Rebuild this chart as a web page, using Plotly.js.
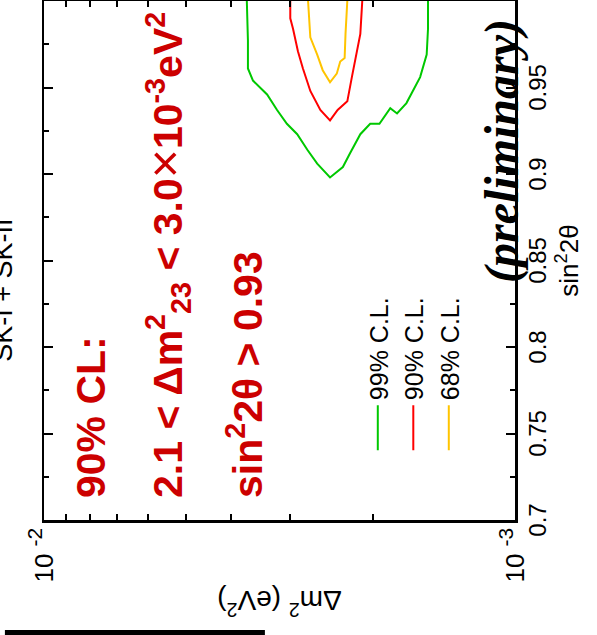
<!DOCTYPE html>
<html>
<head>
<meta charset="utf-8">
<script src="https://cdn.plot.ly/plotly-3.0.1.min.js"></script>
<style>
html,body{margin:0;padding:0;width:597px;height:635px;overflow:hidden;background:#fff;}
#wrap{position:absolute;left:0;top:0;width:635px;height:597px;transform-origin:0 0;transform:translate(0px,635px) rotate(-90deg);}
#chart{width:635px;height:597px;}
</style>
</head>
<body>
<div id="wrap"><div id="chart"></div></div>
<script>
// sin^2(2theta) and Delta m^2 (eV^2) along each confidence contour
const green_s  = [1.000, 0.977, 0.961, 0.954, 0.946, 0.937, 0.929, 0.923, 0.914, 0.906, 0.898, 0.904, 0.912, 0.923, 0.929, 0.929, 0.938, 0.935, 0.941, 0.948, 0.956, 0.969, 0.984, 1.000];
const green_dm = [3.71e-3, 3.69e-3, 3.69e-3, 3.60e-3, 3.36e-3, 3.20e-3, 3.05e-3, 2.90e-3, 2.76e-3, 2.63e-3, 2.47e-3, 2.32e-3, 2.24e-3, 2.13e-3, 2.03e-3, 1.94e-3, 1.84e-3, 1.78e-3, 1.70e-3, 1.65e-3, 1.59e-3, 1.54e-3, 1.53e-3, 1.53e-3];
const red_s    = [1.000, 0.990, 0.984, 0.971, 0.961, 0.948, 0.937, 0.931, 0.937, 0.942, 0.956, 0.981, 1.000];
const red_dm   = [3.00e-3, 3.00e-3, 2.96e-3, 2.89e-3, 2.82e-3, 2.72e-3, 2.59e-3, 2.47e-3, 2.38e-3, 2.27e-3, 2.22e-3, 2.13e-3, 2.11e-3];
const orange_s  = [1.000, 0.979, 0.969, 0.960, 0.953, 0.958, 0.965, 0.967, 0.981, 1.000];
const orange_dm = [2.75e-3, 2.72e-3, 2.63e-3, 2.56e-3, 2.47e-3, 2.39e-3, 2.35e-3, 2.30e-3, 2.29e-3, 2.27e-3];
const seriesNames = ['99% C.L.', '90% C.L.', '68% C.L.'];
const yMajorVals = [0.001, 0.01];
const yMajorText = ['10 <sup><span style="font-size:21px">-3</span></sup>', '10 <sup><span style="font-size:21px">-2</span></sup>'];
const yMinorVals = [0.002, 0.003, 0.004, 0.005, 0.006, 0.007, 0.008, 0.009];

const FONT = 'Liberation Sans, Arial, Helvetica, sans-serif';
const traces = [
  {x: green_s, y: green_dm, name: seriesNames[0], mode: 'lines', line: {color: '#00c800', width: 2}},
  {x: red_s, y: red_dm, name: seriesNames[1], mode: 'lines', line: {color: '#ff0000', width: 2}},
  {x: orange_s, y: orange_dm, name: seriesNames[2], mode: 'lines', line: {color: '#ffc400', width: 2}}
];
const red = '#cc0000';
const layout = {
  width: 635, height: 597,
  margin: {l: 115, r: 1, t: 44, b: 82, pad: 0},
  paper_bgcolor: '#ffffff', plot_bgcolor: '#ffffff',
  font: {family: FONT, color: '#000', size: 24},
  showlegend: true,
  title: {text: 'SK-I + SK-II', font: {family: FONT, size: 27, color: '#000'},
          xref: 'paper', x: 0.443, xanchor: 'center', yref: 'container', y: 0.9958, yanchor: 'middle'},
  xaxis: {
    range: [0.7, 1.0], tick0: 0.7, dtick: 0.05, ticks: 'inside', ticklen: 9, tickwidth: 2, tickcolor: '#000',
    showline: true, linewidth: 2.5, linecolor: '#000', mirror: 'ticks',
    showgrid: false, zeroline: false,
    minor: {tick0: 0.7, dtick: 0.025, ticks: 'inside', ticklen: 5, tickwidth: 2, tickcolor: '#000'},
    tickfont: {family: FONT, size: 24},
    title: {text: 'sin<sup>2</sup>2θ', font: {family: FONT, size: 26}, standoff: 9}
  },
  yaxis: {
    type: 'log', range: [-3, -2], tickmode: 'array', tickvals: yMajorVals, ticktext: yMajorText,
    ticks: 'inside', ticklen: 9, tickwidth: 2, tickcolor: '#000',
    showline: true, linewidth: 2.5, linecolor: '#000', mirror: 'ticks',
    showgrid: false, zeroline: false,
    minor: {tickmode: 'array', tickvals: yMinorVals, ticks: 'inside', ticklen: 6, tickwidth: 2, tickcolor: '#000'},
    tickfont: {family: FONT, size: 26},
    title: {text: 'Δm<sup>2</sup> (eV<sup>2</sup>)', font: {family: FONT, size: 28}, standoff: 0}
  },
  legend: {x: 0.125, y: 0.3396, xanchor: 'left', yanchor: 'top', bgcolor: 'rgba(0,0,0,0)',
           font: {family: FONT, size: 25, color: '#000'}, itemwidth: 45, tracegroupgap: 0},
  annotations: [
    {xref: 'paper', yref: 'paper', x: 0.0385, y: 0.900, xanchor: 'left', yanchor: 'middle', showarrow: false,
     text: '90% CL:', font: {family: FONT, size: 41, color: red, weight: 'bold'}},
    {xref: 'paper', yref: 'paper', x: 0.0385, y: 0.738, xanchor: 'left', yanchor: 'middle', showarrow: false,
     text: '2.1 < Δm<sup>2</sup><sub>23</sub> < 3.0<span style="font-weight:normal;font-size:50px">×</span>10<sup>-3</sup>eV<sup>2</sup>',
     font: {family: FONT, size: 41, color: red, weight: 'bold'}},
    {xref: 'paper', yref: 'paper', x: 0.0385, y: 0.573, xanchor: 'left', yanchor: 'middle', showarrow: false,
     text: 'sin<sup>2</sup>2θ > 0.93', font: {family: FONT, size: 41, color: red, weight: 'bold'}},
    {xref: 'paper', yref: 'paper', x: 0.452, y: 0.027, xanchor: 'left', yanchor: 'middle', showarrow: false,
     text: '(preliminary)', font: {family: 'Liberation Serif, Times New Roman, serif', size: 48, color: '#000', weight: 'bold', style: 'italic'}}
  ],
  shapes: [
    {type: 'rect', xref: 'paper', yref: 'paper', x0: -0.2216, x1: -0.212, y0: 0.531, y1: 1.083,
     fillcolor: '#000', line: {width: 0}}
  ]
};
Plotly.newPlot('chart', traces, layout, {displayModeBar: false, staticPlot: true});
</script>
</body>
</html>
